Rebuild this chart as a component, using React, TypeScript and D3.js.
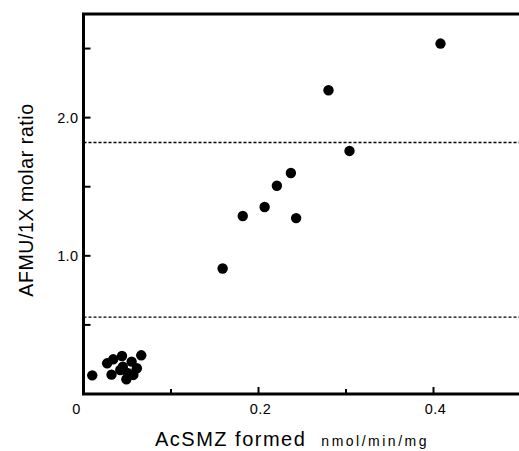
import React from 'react';
import * as d3 from 'd3';

// AcSMZ formed (nmol/min/mg) vs AFMU/1X molar ratio
const acsmz = [
  0.408, 0.280, 0.304, 0.237, 0.221, 0.207, 0.182, 0.243, 0.159,
  0.010, 0.027, 0.034, 0.044, 0.066, 0.032, 0.049, 0.061, 0.055,
  0.045, 0.051, 0.042, 0.057,
];
const ratio = [
  2.536, 2.198, 1.759, 1.599, 1.507, 1.353, 1.288, 1.273, 0.908,
  0.135, 0.222, 0.251, 0.275, 0.280, 0.140, 0.107, 0.186, 0.234,
  0.198, 0.150, 0.174, 0.138,
];
const cutoffs = [1.82, 0.556];
const xTicks = [0, 0.1, 0.2, 0.3, 0.4];
const xTickLabels = ['0', '', '0.2', '', '0.4'];
const yTicks = [0.5, 1.0, 1.5, 2.0, 2.5];
const yTickLabels = ['', '1.0', '', '2.0', ''];

const width = 519,
      height = 451;

const font = '"Liberation Sans", Arial, Helvetica, sans-serif';

export default function App() {
  const x = d3.scaleLinear().domain([0, 0.5]).range([83.5, 521]);
  const y = d3.scaleLinear().domain([0, 2.75]).range([394, 14]);

  const points = acsmz.map((v, i) => ({ x: v, y: ratio[i] }));

  const frame = d3.line()([
    [x(0), y(0)],
    [x(0), y(2.75)],
    [x(0.5), y(2.75)],
  ]);

  return (
    <svg width={width} height={height}
      style={{ position: 'absolute', left: 0, top: 0, background: '#fff' }}>
      {cutoffs.map((c, i) => (
        <line key={'c' + i} x1={x(0)} x2={x(0.5)} y1={y(c)} y2={y(c)}
          stroke="#000" strokeWidth={1.3} strokeDasharray="3,2" />
      ))}

      <path d={frame} fill="none" stroke="#000" strokeWidth={3} />
      <line x1={x(0) - 1.5} x2={x(0.5)} y1={y(0)} y2={y(0)} stroke="#000" strokeWidth={3} />

      {xTicks.map((t, i) => (
        <g key={'x' + i}>
          {t > 0 && <line x1={x(t)} x2={x(t)} y1={y(0)} y2={y(0) - (i % 2 ? 5 : 7)} stroke="#000" strokeWidth={2} />}
          <text x={x(t) + (t === 0 ? -7 : 2)} y={y(0) + 20} textAnchor="middle"
            fontFamily={font} fontSize={14.5} letterSpacing={0.4}>{xTickLabels[i]}</text>
        </g>
      ))}

      {yTicks.map((t, i) => (
        <g key={'y' + i}>
          <line x1={x(0)} x2={x(0) + 7} y1={y(t)} y2={y(t)} stroke="#000" strokeWidth={2} />
          <text x={x(0) - 5} y={y(t) + 5} textAnchor="end"
            fontFamily={font} fontSize={14.5} letterSpacing={0.4}>{yTickLabels[i]}</text>
        </g>
      ))}

      {points.map((d, i) => (
        <circle key={'p' + i} cx={x(d.x)} cy={y(d.y)} r={5.2} fill="#000" />
      ))}

      <text x={155} y={446} fontFamily={font} fontSize={20} letterSpacing={1.5}>
        AcSMZ formed
        <tspan dx={15} fontSize={14} letterSpacing={2.5}>nmol/min/mg</tspan>
      </text>

      <text transform={`translate(33,200) rotate(-90)`} textAnchor="middle"
        fontFamily={font} fontSize={19.5} letterSpacing={0.6}>AFMU/1X molar ratio</text>
    </svg>
  );
}
